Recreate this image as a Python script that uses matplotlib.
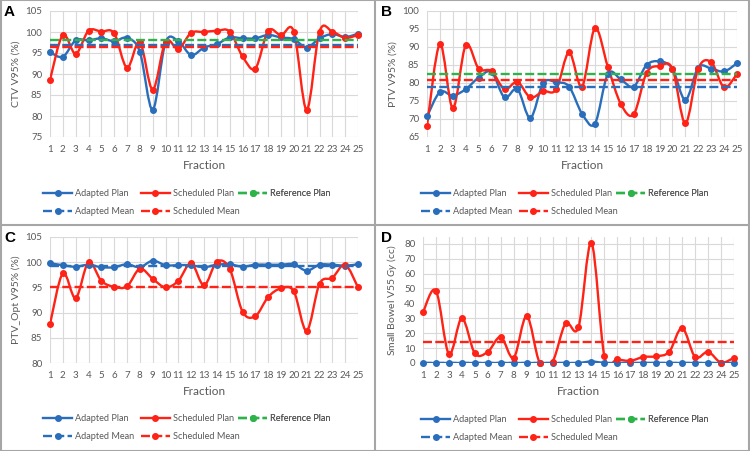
import numpy as np
import matplotlib
matplotlib.use('Agg')
import matplotlib.pyplot as plt
from matplotlib.path import Path
from matplotlib.patches import PathPatch
from matplotlib.lines import Line2D

plt.rcParams['font.family'] = ['Lato', 'DejaVu Sans']
plt.rcParams['mathtext.fontset'] = 'custom'
plt.rcParams['mathtext.rm'] = 'Lato'
plt.rcParams['mathtext.it'] = 'Lato:italic'

fractions = list(range(1, 26))

# A - CTV V95%
ctv_adapted = [95.2, 94.1, 98.0, 98.0, 98.5, 97.8, 98.6, 95.3, 81.5, 97.5, 97.8, 94.5, 96.3,
               97.1, 98.7, 98.5, 98.5, 99.3, 98.7, 98.3, 96.3, 98.5, 99.5, 98.8, 99.6]
ctv_scheduled = [88.6, 99.3, 94.8, 100.3, 100.1, 99.7, 91.5, 97.6, 86.3, 97.7, 96.0, 99.8, 100.0,
                 100.3, 100.1, 94.2, 91.3, 100.3, 99.2, 100.1, 81.5, 100.1, 100.1, 98.6, 99.3]
ctv_means = {'adapted': 96.8, 'scheduled': 96.4, 'reference': 98.2}

# B - PTV V95%
ptv_adapted = [70.7, 77.5, 76.5, 78.3, 81.5, 83.0, 76.0, 78.3, 70.3, 80.0, 80.2, 79.0, 71.5,
               68.7, 82.5, 81.0, 79.0, 85.0, 86.0, 84.0, 75.3, 84.3, 84.0, 83.2, 85.5]
ptv_scheduled = [68.0, 90.8, 73.0, 90.5, 84.0, 83.3, 78.3, 80.3, 76.0, 77.7, 78.2, 88.5, 79.0,
                 95.2, 84.5, 74.2, 71.3, 82.8, 84.7, 84.0, 68.8, 84.0, 85.8, 78.8, 82.5]
ptv_means = {'adapted': 79.0, 'scheduled': 80.7, 'reference': 82.6}

# C - PTV_Opt V95%
opt_adapted = [99.8, 99.4, 99.1, 99.5, 99.0, 99.0, 99.6, 99.0, 100.3, 99.4, 99.4, 99.4, 99.0,
               99.5, 99.6, 99.1, 99.5, 99.5, 99.5, 99.6, 98.3, 99.5, 99.5, 99.3, 99.6]
opt_scheduled = [87.7, 97.8, 92.9, 100.0, 96.3, 95.1, 95.2, 98.7, 96.7, 95.0, 96.3, 99.8, 95.4,
                 100.1, 98.7, 90.2, 89.3, 93.1, 94.8, 94.2, 86.4, 95.7, 96.9, 99.5, 95.0]
opt_means = {'adapted': 99.2, 'scheduled': 95.1, 'reference': None}

# D - Small bowel V55 Gy
sb_adapted = [0, 0, 0, 0, 0, 0, 0, 0, 0, 0, 0, 0, 0, 1.0, 0, 0, 0, 0, 0, 0, 0, 0, 0, 0, 0]
sb_scheduled = [34.0, 48.5, 6.0, 30.0, 6.5, 7.5, 17.5, 3.5, 31.5, 0.3, 1.0, 26.5, 24.0,
                80.5, 4.5, 2.5, 1.5, 4.0, 4.5, 7.5, 23.5, 4.0, 7.5, 0.3, 3.5]
sb_means = {'adapted': 0.1, 'scheduled': 14.2, 'reference': None}

BLUE = '#2A6EBB'
RED = '#FF2216'
GREEN = '#2DB34A'
TEXT = '#595959'
DASH = (0, (3.8, 1.4))
LW = 1.7
MS = 4.0

W, H = 750, 451
fig = plt.figure(figsize=(W / 100, H / 100), dpi=100)


def px_axes(x0, y0, x1, y1):
    return fig.add_axes([x0 / W, 1 - y1 / H, (x1 - x0) / W, (y1 - y0) / H])


def smooth_path(x, y):
    # Bezier smoothing similar to Excel's "smoothed line"
    x = np.asarray(x, float)
    y = np.asarray(y, float)
    n = len(x)
    verts = [(x[0], y[0])]
    codes = [Path.MOVETO]
    for i in range(n - 1):
        i0 = max(i - 1, 0)
        i3 = min(i + 2, n - 1)
        c1 = (x[i] + (x[i + 1] - x[i0]) / 6, y[i] + (y[i + 1] - y[i0]) / 6)
        c2 = (x[i + 1] - (x[i3] - x[i]) / 6, y[i + 1] - (y[i3] - y[i]) / 6)
        verts += [c1, c2, (x[i + 1], y[i + 1])]
        codes += [Path.CURVE4] * 3
    return Path(verts, codes)


def draw_panel(ax, adapted, scheduled, means, ylim, yticks, ylabel, letter, letter_xy, leg_xy):
    ax.set_xlim(1, 25)
    ax.set_ylim(ylim)
    ax.set_xticks(fractions)
    ax.set_yticks(yticks)
    ax.grid(True, color='#D9D9D9', lw=0.8)
    ax.set_axisbelow(True)
    for s in ax.spines.values():
        s.set_visible(False)
    ax.tick_params(length=0, labelsize=7, labelcolor=TEXT, pad=5.5)

    for data, color in ((adapted, BLUE), (scheduled, RED)):
        ax.add_patch(PathPatch(smooth_path(fractions, data), fill=False, edgecolor=color,
                               lw=LW, capstyle='round', joinstyle='round'))
        ax.plot(fractions, data, 'o', color=color, ms=MS, clip_on=False, zorder=3)

    if means['reference'] is not None:
        ax.axhline(means['reference'], color=GREEN, lw=LW, ls=DASH, zorder=4)
    ax.axhline(means['adapted'], color=BLUE, lw=LW, ls=DASH, zorder=4)
    ax.axhline(means['scheduled'], color=RED, lw=LW, ls=DASH, zorder=4)

    ax.set_xlabel('Fraction', fontsize=8.5, color=TEXT, labelpad=4.5)
    ax.set_ylabel(ylabel, fontsize=7.5, color=TEXT, labelpad=3.5)

    fig.text(letter_xy[0] / W, 1 - letter_xy[1] / H, letter, fontsize=11, fontweight='bold',
             ha='left', va='top', family='Liberation Sans')

    handles = [
        Line2D([], [], color=BLUE, lw=LW, marker='o', ms=MS),
        Line2D([], [], color=BLUE, lw=LW, ls=DASH, marker='o', ms=MS),
        Line2D([], [], color=RED, lw=LW, marker='o', ms=MS),
        Line2D([], [], color=RED, lw=LW, ls=DASH, marker='o', ms=MS),
        Line2D([], [], color=GREEN, lw=LW, ls=DASH, marker='o', ms=MS),
    ]
    labels = ['Adapted Plan', 'Adapted Mean', 'Scheduled Plan', 'Scheduled Mean', 'Reference Plan']
    # Excel lays legend entries out in equal-width columns
    for k in range(3):
        leg = ax.legend(handles[2 * k:2 * k + 2], labels[2 * k:2 * k + 2], loc='upper left',
                        frameon=False,
                        bbox_to_anchor=((leg_xy[0] + 97.5 * k) / W, 1 - leg_xy[1] / H),
                        bbox_transform=fig.transFigure,
                        fontsize=6.6, labelcolor=TEXT, handlelength=3.2, handletextpad=0.3,
                        labelspacing=0.95, borderpad=0, borderaxespad=0)
        ax.add_artist(leg)


axA = px_axes(50, 11, 358, 137)
draw_panel(axA, ctv_adapted, ctv_scheduled, ctv_means, (75, 105), range(75, 106, 5),
           'CTV V95% (%)', 'A', (4, 5), (43, 189))

axB = px_axes(427, 11, 737, 137)
draw_panel(axB, ptv_adapted, ptv_scheduled, ptv_means, (65, 100), range(65, 101, 5),
           'PTV V95% (%)', 'B', (381, 5), (421, 189))

axC = px_axes(50, 237, 358, 363)
draw_panel(axC, opt_adapted, opt_scheduled, opt_means, (80, 105), range(80, 106, 5),
           'PTV_Opt V95% (%)', 'C', (4, 231), (43, 414))

axD = px_axes(423, 237, 734, 363)
draw_panel(axD, sb_adapted, sb_scheduled, sb_means, (0, 84.5), range(0, 81, 10),
           'Small Bowel V55 $\\mathit{Gy}$ (cc)', 'D', (381, 231), (421, 415))

# panel frames
border = '#A6A6A6'
fig.add_artist(Line2D([375 / W, 375 / W], [0, 1], color=border, lw=1.5))
fig.add_artist(Line2D([0, 1], [1 - 225 / H, 1 - 225 / H], color=border, lw=1.5))
fig.add_artist(Line2D([0.001, 0.001, 0.999, 0.999, 0.001], [0.001, 0.999, 0.999, 0.001, 0.001],
                      color=border, lw=1.5))

fig.savefig('out.png', dpi=100)
